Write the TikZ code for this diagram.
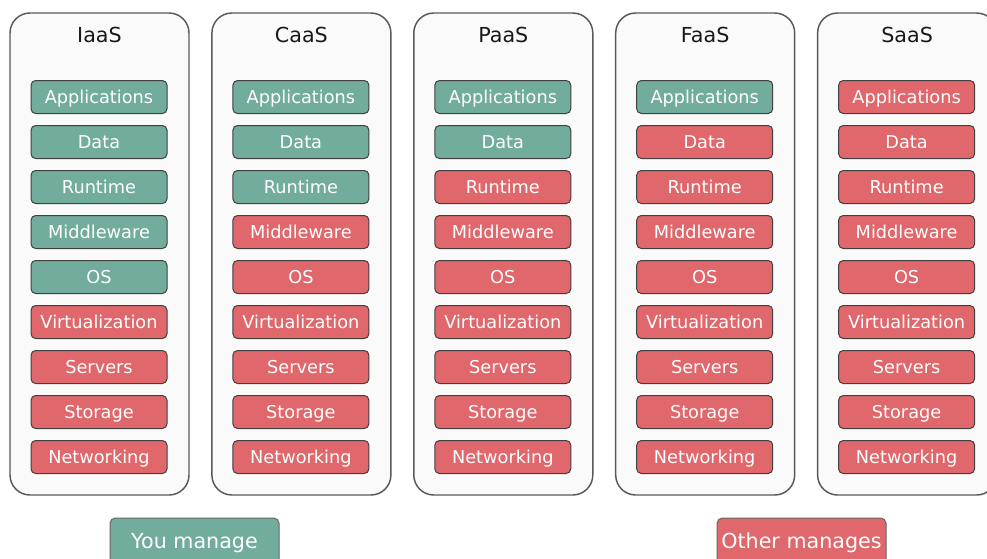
\documentclass[tikz,border=0pt]{standalone}
\usepackage{fontspec}
\setmainfont{DejaVu Sans}

\definecolor{youmanage}{HTML}{72AC9C}
\definecolor{othermanage}{HTML}{E0676B}

\begin{document}
\begin{tikzpicture}[x=0.75pt,y=-0.75pt,
    column/.style={draw=black!65,fill=black!2,line width=1.1pt,rounded corners=15pt,
                   minimum width=134.25pt,minimum height=361.5pt,inner sep=0pt},
    title/.style={text=black!90,font=\fontsize{15.5}{18}\selectfont},
    layer/.style={draw=black!75,line width=0.75pt,rounded corners=3.5pt,text=white,
                  minimum width=102pt,minimum height=24.75pt,inner sep=0pt,
                  text height=12.2pt,text depth=2.5pt,
                  font=\fontsize{13.3}{16}\selectfont},
    legend/.style={draw=black!60,line width=0.75pt,rounded corners=4pt,text=white,
                   minimum width=126.75pt,minimum height=34.5pt,inner sep=0pt,
                   text height=14pt,text depth=2.7pt,
                   font=\fontsize{15.5}{18}\selectfont}]

  \useasboundingbox (0,0) rectangle (987,558);

% service models, green layers are the ones you manage
  \foreach \model/\k [count=\i from 0] in {IaaS/5,CaaS/3,PaaS/2,FaaS/1,SaaS/0} {
    \node[column] (col\i) at (99.5+201.9*\i,254) {};
    \node[title] (title\i) at (99.5+201.9*\i,35) {\model};
    \foreach \layername [count=\j] in {Applications,Data,Runtime,Middleware,OS,
                                        Virtualization,Servers,Storage,Networking} {
      \ifnum\j>\k \def\layercolor{othermanage}\else\def\layercolor{youmanage}\fi
      \node[layer,fill=\layercolor] (layer\i-\j) at (99+201.9*\i,97+45*\j-45) {\layername};
    }
  }

% legend
  \node[legend,fill=youmanage]   (you)   at (194.5,541) {You manage};
  \node[legend,fill=othermanage] (other) at (801.5,541) {Other manages};

\end{tikzpicture}
\end{document}
